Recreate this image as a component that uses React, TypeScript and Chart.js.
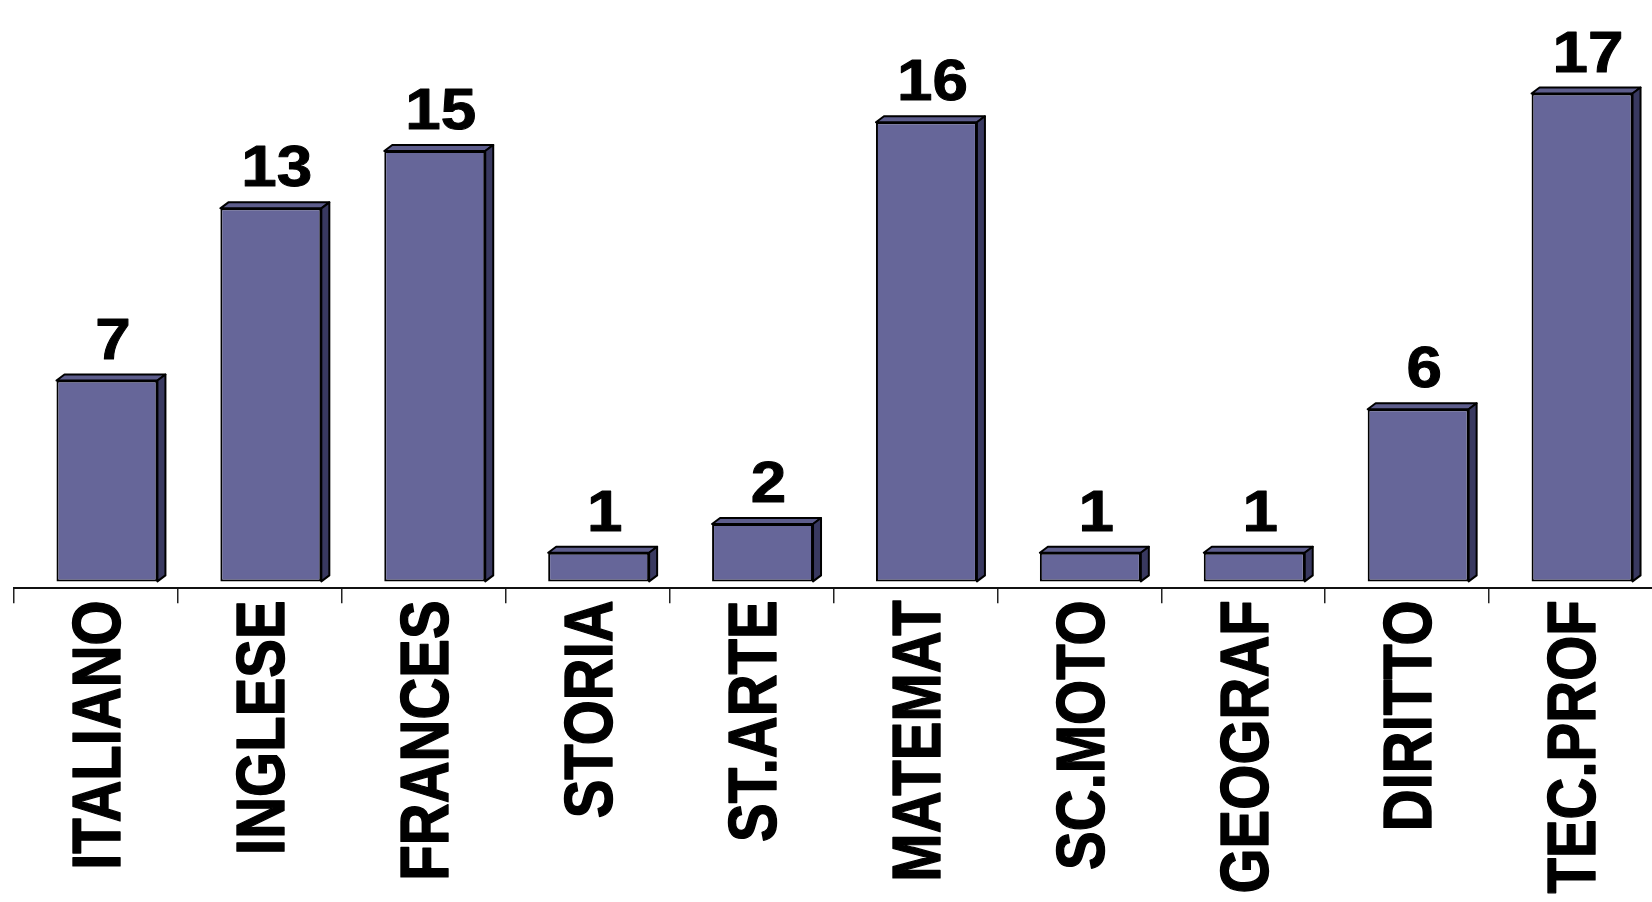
import React, { useEffect, useRef } from "react";
import { Chart, registerables } from "chart.js";

Chart.register(...registerables);

const categories = [
  "ITALIANO",
  "INGLESE",
  "FRANCES",
  "STORIA",
  "ST.ARTE",
  "MATEMAT",
  "SC.MOTO",
  "GEOGRAF",
  "DIRITTO",
  "TEC.PROF",
];
const values = [7, 13, 15, 1, 2, 16, 1, 1, 6, 17];

const Y_MIN = -0.24;
const Y_MAX = 20.26;

const FRONT = "#666699";
const TOP = "#5d5d8c";
const SIDE = "#393960";
const OUTLINE = "#000000";
const SHIFT = 11; // 3D floor offset of the bars (px)
const DX = 8;
const DY = 6;
const LABEL_GAP = 22;
const FONT = "'Liberation Sans', Arial, Helvetica, sans-serif";

const threeD = {
  id: "threeD",
  beforeDatasetsDraw(chart: any) {
    const ctx = chart.ctx;
    const meta = chart.getDatasetMeta(0);
    ctx.save();
    ctx.lineWidth = 2;
    ctx.lineJoin = "round";
    ctx.strokeStyle = OUTLINE;
    meta.data.forEach((el: any) => {
      const p = el.getProps(["x", "y", "base", "width"], true);
      const L = p.x - p.width / 2 + SHIFT;
      const R = p.x + p.width / 2 + SHIFT;
      const T = p.y;
      const B = p.base;
      ctx.beginPath();
      ctx.moveTo(L, T);
      ctx.lineTo(L + DX, T - DY);
      ctx.lineTo(R + DX, T - DY);
      ctx.lineTo(R, T);
      ctx.closePath();
      ctx.fillStyle = TOP;
      ctx.fill();
      ctx.stroke();
      ctx.beginPath();
      ctx.moveTo(R, T);
      ctx.lineTo(R + DX, T - DY);
      ctx.lineTo(R + DX, B - DY);
      ctx.lineTo(R, B);
      ctx.closePath();
      ctx.fillStyle = SIDE;
      ctx.fill();
      ctx.stroke();
    });
    ctx.restore();
    ctx.save();
    ctx.translate(SHIFT, 0);
  },
  afterDatasetsDraw(chart: any) {
    const ctx = chart.ctx;
    ctx.restore();
    const meta = chart.getDatasetMeta(0);
    ctx.save();
    ctx.fillStyle = "#000";
    ctx.strokeStyle = "#000";
    ctx.lineWidth = 1;
    ctx.lineJoin = "round";
    ctx.font = `bold 58px ${FONT}`;
    ctx.textAlign = "center";
    ctx.textBaseline = "alphabetic";
    meta.data.forEach((el: any, i: number) => {
      const p = el.getProps(["x", "y"], true);
      ctx.save();
      ctx.translate(p.x + SHIFT + DX / 2 + 2, p.y - LABEL_GAP);
      ctx.scale(1.1, 1);
      ctx.fillText(String(values[i]), 0, 0);
      ctx.strokeText(String(values[i]), 0, 0);
      ctx.restore();
    });
    ctx.restore();
  },
  afterDraw(chart: any) {
    const ctx = chart.ctx;
    const xs = chart.scales.x;
    const top = xs.top + 12;
    const fs = 58;
    ctx.save();
    ctx.fillStyle = "#000";
    ctx.strokeStyle = "#000";
    ctx.lineWidth = 1.2;
    ctx.lineJoin = "round";
    ctx.font = `bold ${fs}px ${FONT}`;
    ctx.textAlign = "right";
    ctx.textBaseline = "alphabetic";
    categories.forEach((c, i) => {
      const cx = xs.getPixelForValue(i);
      ctx.save();
      ctx.translate(cx, top);
      ctx.rotate(-Math.PI / 2);
      ctx.scale(1, 1.17);
      ctx.fillText(c, 0, (0.716 * fs) / 2);
      ctx.strokeText(c, 0, (0.716 * fs) / 2);
      ctx.restore();
    });
    ctx.restore();
  },
};

export default function App() {
  const ref = useRef<HTMLCanvasElement>(null);
  useEffect(() => {
    if (!ref.current) return;
    const chart = new Chart(ref.current, {
      type: "bar",
      data: {
        labels: categories,
        datasets: [
          {
            data: values,
            backgroundColor: FRONT,
            borderColor: OUTLINE,
            borderWidth: 2,
            borderSkipped: false,
            categoryPercentage: 1,
            barPercentage: 0.616,
          },
        ],
      },
      options: {
        responsive: false,
        animation: false,
        devicePixelRatio: 1,
        layout: { padding: { left: 14, right: 7, top: 0, bottom: 298.7 } },
        plugins: {
          legend: { display: false },
          tooltip: { enabled: false },
        },
        scales: {
          x: {
            type: "category",
            offset: true,
            grid: {
              offset: true,
              drawOnChartArea: false,
              drawTicks: true,
              tickLength: 15,
              color: "#222",
              lineWidth: 1.5,
            },
            border: { display: true, color: "#111", width: 2 },
            ticks: { display: false },
          },
          y: {
            display: false,
            min: Y_MIN,
            max: Y_MAX,
          },
        },
      },
      plugins: [threeD],
    });
    return () => chart.destroy();
  }, []);
  return (
    <div
      style={{
        position: "fixed",
        left: 0,
        top: 0,
        width: 1652,
        height: 902,
        overflow: "hidden",
        background: "#fff",
      }}
    >
      <canvas ref={ref} width={1660} height={902} style={{ display: "block" }} />
    </div>
  );
}
